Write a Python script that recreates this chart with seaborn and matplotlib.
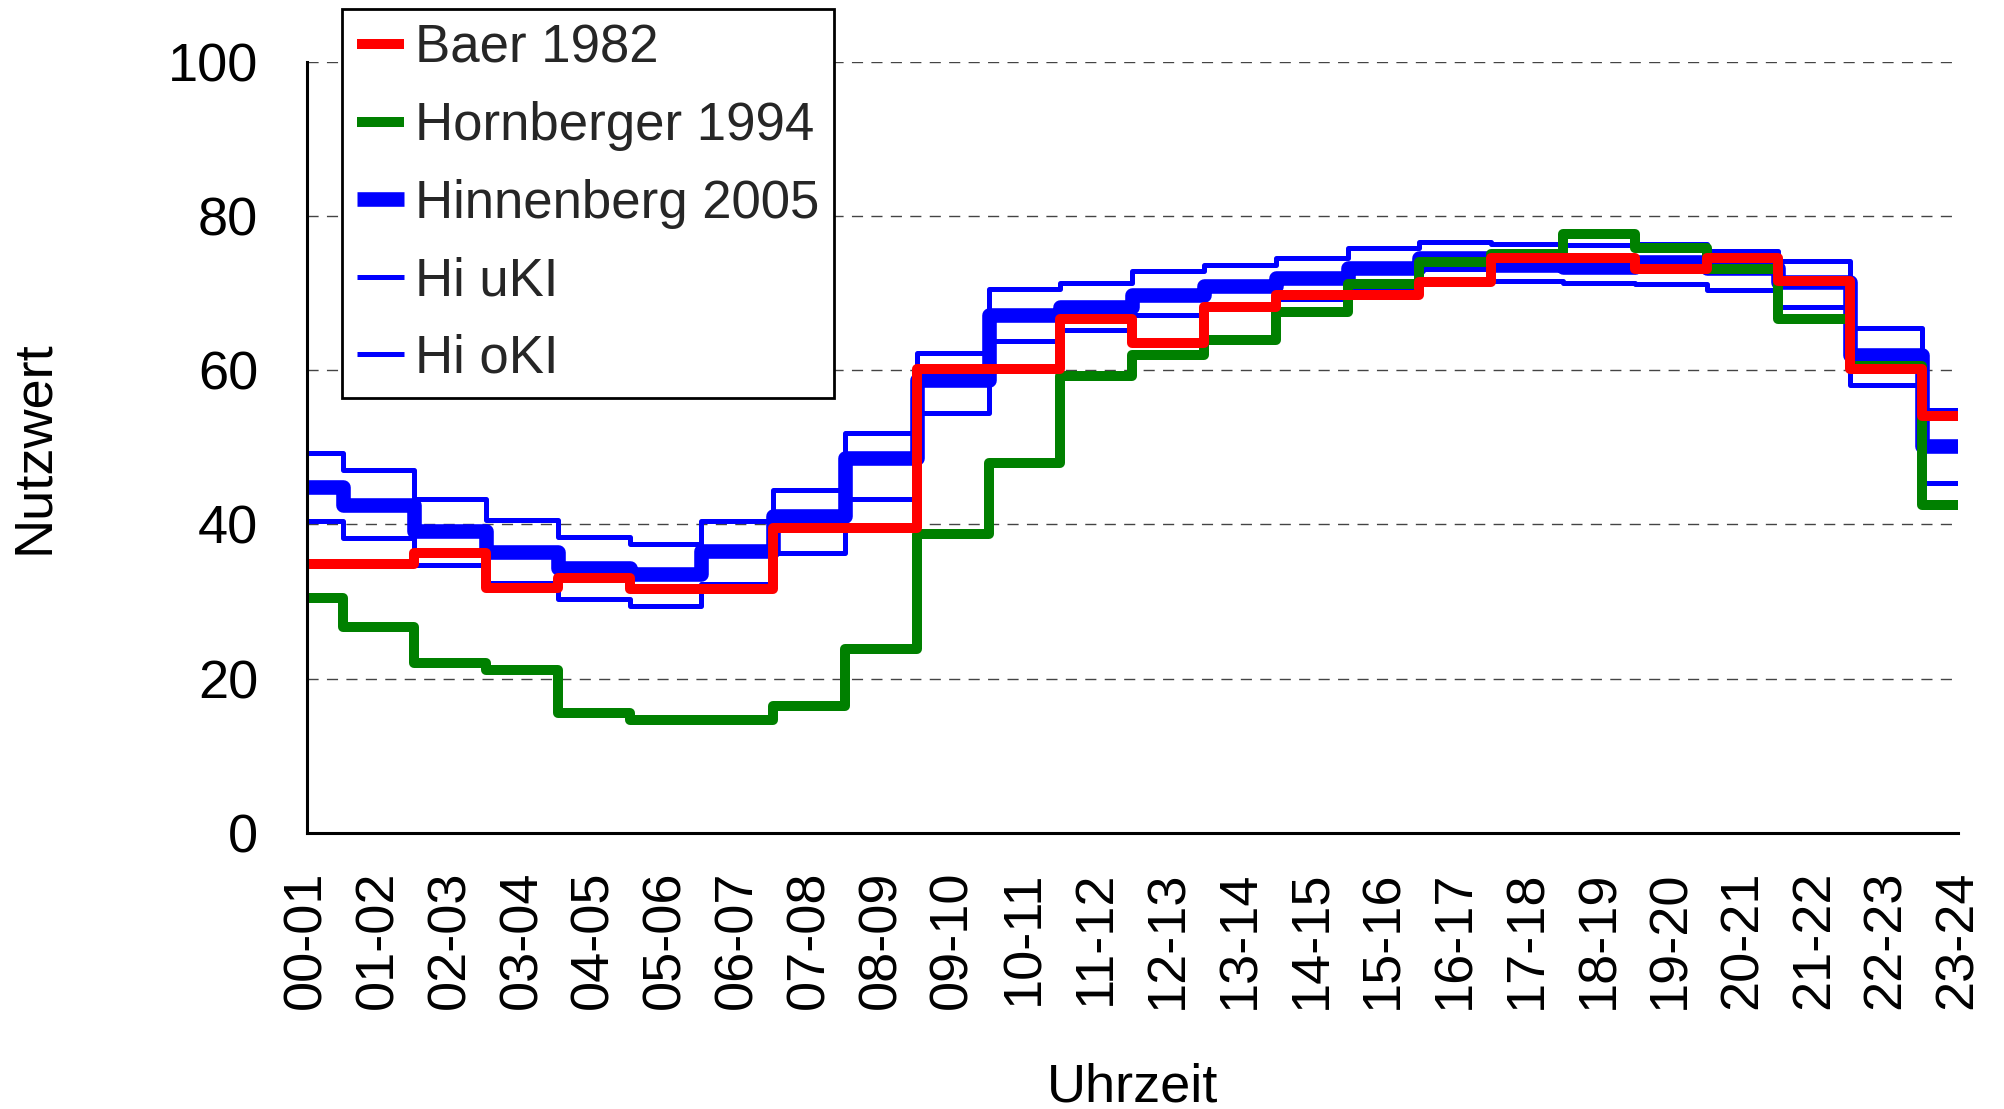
import numpy as np
import pandas as pd
import matplotlib
matplotlib.use("Agg")
import matplotlib.pyplot as plt
import seaborn as sns

# Hourly slots
hours = ["00-01", "01-02", "02-03", "03-04", "04-05", "05-06", "06-07", "07-08",
         "08-09", "09-10", "10-11", "11-12", "12-13", "13-14", "14-15", "15-16",
         "16-17", "17-18", "18-19", "19-20", "20-21", "21-22", "22-23", "23-24"]

baer_1982 = [34.9, 34.9, 36.3, 31.7, 33.1, 31.6, 31.6, 39.5, 39.5, 60.2, 60.2, 66.6,
             63.5, 68.2, 69.7, 69.7, 71.4, 74.6, 74.6, 73.1, 74.5, 71.5, 60.2, 54.0]
hornberger_1994 = [30.4, 26.7, 22.1, 21.1, 15.6, 14.6, 14.6, 16.5, 23.9, 38.8, 48.0, 59.3,
                   62.0, 63.9, 67.5, 71.2, 74.0, 75.1, 77.7, 75.9, 73.1, 66.7, 60.5, 42.5]
hinnenberg_2005 = [44.8, 42.5, 39.1, 36.4, 34.3, 33.6, 36.5, 41.1, 48.6, 58.7, 67.1, 68.2,
                   69.8, 70.9, 72.0, 73.3, 74.6, 73.6, 73.4, 74.0, 73.2, 71.4, 62.0, 50.2]
hi_ukl = [40.4, 38.3, 34.7, 32.4, 30.3, 29.4, 32.3, 36.3, 43.3, 54.4, 63.8, 65.2,
          67.1, 68.2, 69.2, 70.8, 73.1, 71.5, 71.3, 71.2, 70.4, 68.2, 58.1, 45.4]
hi_okl = [49.2, 47.1, 43.3, 40.6, 38.4, 37.5, 40.4, 44.5, 51.9, 62.2, 70.5, 71.3,
          72.9, 73.6, 74.5, 75.8, 76.6, 76.4, 76.2, 76.3, 75.4, 74.1, 65.5, 54.8]

y_ticks = [0, 20, 40, 60, 80, 100]

sns.set_theme(style="white")
plt.rcParams["font.family"] = ["Liberation Sans", "DejaVu Sans"]

fig = plt.figure(figsize=(20.04, 11.09), dpi=100)
ax = fig.add_axes([0.1530, 0.2489, 0.8240, 0.6955])

pos = np.arange(len(hours))
df = pd.DataFrame({
    "pos": pos,
    "Baer 1982": baer_1982,
    "Hornberger 1994": hornberger_1994,
    "Hinnenberg 2005": hinnenberg_2005,
    "Hi uKI": hi_ukl,
    "Hi oKI": hi_okl,
})

# series: (column, colour, linewidth in pt, zorder)
styles = [
    ("Hi uKI", "#0000ff", 3.6, 3),
    ("Hi oKI", "#0000ff", 3.6, 3),
    ("Hinnenberg 2005", "#0000ff", 10.5, 4),
    ("Hornberger 1994", "#008000", 7.2, 5),
    ("Baer 1982", "#ff0000", 7.2, 6),
]
for col, color, lw, z in styles:
    sns.lineplot(data=df, x="pos", y=col, ax=ax, color=color, linewidth=lw,
                 drawstyle="steps-mid", label=col, zorder=z,
                 solid_joinstyle="round", solid_capstyle="butt")

ax.set_xlim(0, len(hours) - 1)
ax.set_ylim(0, 100)
ax.set_xticks(pos)
ax.set_xticklabels(hours, rotation=90, va="top", ha="center")
ax.set_yticks(y_ticks)
ax.set_yticklabels([str(v) for v in y_ticks])

ax.yaxis.grid(True, color="#444444", linestyle=(0, (8, 6)), linewidth=1.0, zorder=0)
ax.xaxis.grid(False)
ax.set_axisbelow(True)

for side in ["top", "right"]:
    ax.spines[side].set_visible(False)
for side in ["left", "bottom"]:
    ax.spines[side].set_color("black")
    ax.spines[side].set_linewidth(2.2)
    ax.spines[side].set_zorder(7)

ax.tick_params(axis="both", which="major", direction="out", length=17, width=0.8,
               color="#444444", labelsize=39, labelcolor="black")
ax.tick_params(axis="y", pad=18)
ax.tick_params(axis="x", pad=10)

ax.set_xlabel("Uhrzeit", fontsize=39, color="black")
ax.set_ylabel("Nutzwert", fontsize=39, color="black")
ax.xaxis.set_label_coords(0.5, -0.298)
ax.yaxis.set_label_coords(-0.150, 0.5)

handles, labels = ax.get_legend_handles_labels()
order = ["Baer 1982", "Hornberger 1994", "Hinnenberg 2005", "Hi uKI", "Hi oKI"]
hmap = dict(zip(labels, handles))
leg = ax.legend([hmap[k] for k in order], order, loc="upper left",
                bbox_to_anchor=(342 / 2004, 1 - 9 / 1109), bbox_transform=fig.transFigure,
                borderaxespad=0, fontsize=38, frameon=True, fancybox=False,
                framealpha=1, edgecolor="black", handlelength=0.9, handletextpad=0.2,
                labelspacing=0.52, borderpad=0.28)
leg.get_frame().set_linewidth(2.0)
leg.set_zorder(10)

fig.savefig("out.png", dpi=100)
